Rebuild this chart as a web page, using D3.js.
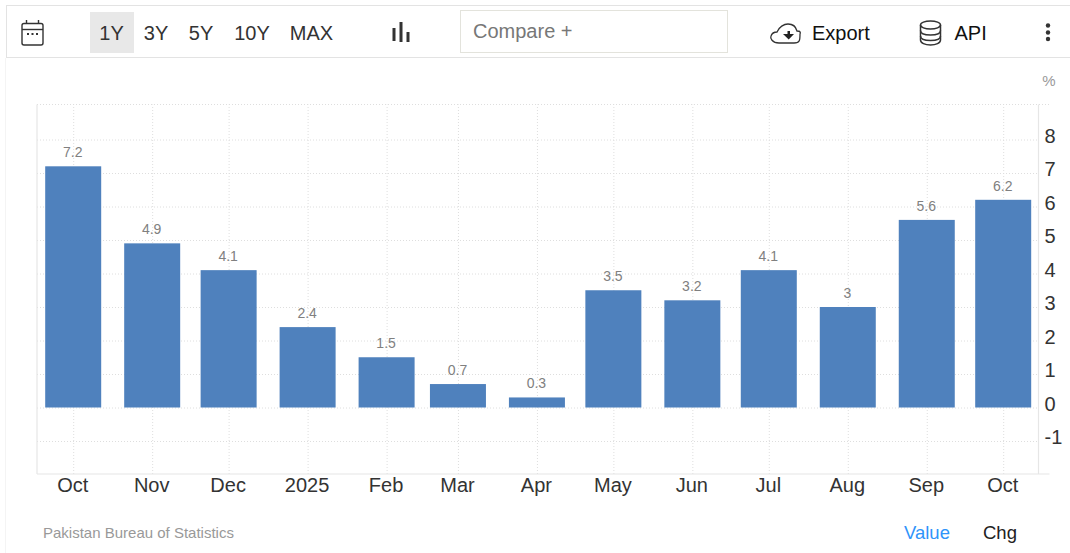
<!DOCTYPE html>
<html><head><meta charset="utf-8">
<style>
html,body{margin:0;padding:0;background:#fff;overflow:hidden}
svg{display:block}
text{font-family:"Liberation Sans",Arial,sans-serif}
.domain{display:none}
</style>
<script src="https://cdn.jsdelivr.net/npm/d3@7/dist/d3.min.js"></script>
</head><body><svg id="c" width="1070" height="553"></svg>
<script>
const dates = ["2024-10-01","2024-11-01","2024-12-01","2025-01-01","2025-02-01","2025-03-01","2025-04-01","2025-05-01","2025-06-01","2025-07-01","2025-08-01","2025-09-01","2025-10-01"];
const tickLabels = ["Oct","Nov","Dec","2025","Feb","Mar","Apr","May","Jun","Jul","Aug","Sep","Oct"];
const values = [7.2,4.9,4.1,2.4,1.5,0.7,0.3,3.5,3.2,4.1,3,5.6,6.2];
const yTicks = [-1,0,1,2,3,4,5,6,7,8];
const rangeButtons = ["1Y","3Y","5Y","10Y","MAX"];
const rangeButtonX = [111.5,156,201,252,311.5];

const svg = d3.select("#c");
const parsed = dates.map(d => new Date(d + "T00:00:00Z"));
const x = d3.scaleUtc().domain([parsed[0], parsed[parsed.length-1]]).range([73.2,1003.2]);
const y = d3.scaleLinear().domain([-1,8]).range([441,139.5]);
const plotL = 37, plotR = 1038.5, plotT = 104.5, plotB = 474;
const barW = 56;

const line = (p,x1,y1,x2,y2,c,w=1) => p.append("line").attr("x1",x1).attr("y1",y1).attr("x2",x2).attr("y2",y2).attr("stroke",c).attr("stroke-width",w);

// toolbar frame
line(svg,6,5.5,1070,5.5,"#e3e3e3");
line(svg,6,57.5,1070,57.5,"#e3e3e3");
line(svg,6.5,5,6.5,58,"#e3e3e3");
line(svg,5.5,58,5.5,553,"#f4f4f4");
svg.append("rect").attr("x",90).attr("y",12).attr("width",44).attr("height",41).attr("fill","#e8e8e8");
svg.selectAll("text.rb").data(rangeButtons).join("text").attr("class","rb")
  .attr("x",(d,i)=>rangeButtonX[i]).attr("y",40).attr("text-anchor","middle").attr("font-size",20).attr("fill","#333").text(d=>d);
svg.append("rect").attr("x",460.5).attr("y",10.5).attr("width",267).attr("height",42).attr("fill","#fff").attr("stroke","#e3e3dc");
svg.append("text").attr("x",473).attr("y",38).attr("font-size",20).attr("fill","#777").text("Compare +");
svg.append("text").attr("x",812).attr("y",40).attr("font-size",20).attr("fill","#111").text("Export");
svg.append("text").attr("x",954.5).attr("y",40).attr("font-size",20).attr("fill","#111").text("API");

// icons
const ic = svg.append("g").attr("fill","none").attr("stroke","#333").attr("stroke-width",1.4);
ic.append("rect").attr("x",22).attr("y",23.5).attr("width",21).attr("height",21.5).attr("rx",2);
line(ic,22,29.5,43,29.5,"#333",1.4);
line(ic,26.5,20,26.5,24,"#333",1.4);
line(ic,38.5,20,38.5,24,"#333",1.4);
[28,32.5,37].forEach(cx => svg.append("rect").attr("x",cx-1).attr("y",33).attr("width",2).attr("height",2).attr("fill","#333"));
[[394,28,41],[401,22,42],[408,32,42]].forEach(b => svg.append("rect").attr("x",b[0]-1.5).attr("y",b[1]).attr("width",3).attr("height",b[2]-b[1]).attr("fill","#333"));
// cloud
ic.append("path").attr("d","M779 43 C772 43 770 38 771 36 C772 33 775 32 777 32 C779 27 784 24 788 24 C793 24 796 27 797 31 C801 31 800.5 33 800 34 C800 40 800 43 794 43 Z").attr("stroke-width",1.3);
svg.append("path").attr("d","M783 34 H787.5 V31 H790 V34 L794 34 L788.7 39.5 Z").attr("fill","#222");
// database
const db = svg.append("g").attr("fill","none").attr("stroke","#333").attr("stroke-width",1.5);
db.append("ellipse").attr("cx",930.5).attr("cy",25).attr("rx",10).attr("ry",4);
db.append("path").attr("d","M920.5 25 V40 C920.5 43 925 45 930.5 45 C936 45 940.5 43 940.5 40 V25");
db.append("path").attr("d","M920.5 30.5 C920.5 33.5 925 35 930.5 35 C936 35 940.5 33.5 940.5 30.5");
db.append("path").attr("d","M920.5 36 C920.5 39 925 40.5 930.5 40.5 C936 40.5 940.5 39 940.5 36");
// kebab
[25.5,32.5,39].forEach(cy => svg.append("circle").attr("cx",1048).attr("cy",cy).attr("r",2.2).attr("fill","#333"));

// grid (dotted)
const gridX = svg.append("g").attr("transform",`translate(0,${plotB})`)
  .call(d3.axisBottom(x).tickValues(parsed).tickSize(-(plotB-plotT)).tickFormat(""));
gridX.selectAll(".tick line").attr("stroke","#dedede").attr("stroke-dasharray","1 2");
const gridY = svg.append("g").attr("transform",`translate(${plotL},0)`)
  .call(d3.axisRight(y).tickValues(yTicks).tickSize(plotR-plotL).tickFormat(""));
gridY.selectAll(".tick line").attr("stroke","#dedede").attr("stroke-dasharray","1 2");
line(svg,plotL,plotT,plotR+11,plotT,"#dedede").attr("stroke-dasharray","1 2");

// frame
line(svg,plotL,plotT,plotL,plotB,"#e6e6e6",1.2);
line(svg,plotL,plotB,plotR+11,plotB,"#e6e6e6",1.2);
line(svg,plotR,plotT,plotR,plotB,"#e6e6e6",1.2);

// bars
svg.append("g").selectAll("rect").data(values).join("rect")
  .attr("x",(d,i)=>x(parsed[i])-barW/2).attr("width",barW)
  .attr("y",d=>y(d)).attr("height",d=>y(0)-y(d))
  .attr("fill","#4f81bd");

// value labels
svg.append("g").selectAll("text").data(values).join("text")
  .attr("x",(d,i)=>x(parsed[i])-0.5).attr("y",d=>y(d)-9)
  .attr("text-anchor","middle").attr("font-size",14).attr("fill","#808080").text(d=>d);

// axes labels
const axX = svg.append("g").attr("transform",`translate(-1,${plotB})`)
  .call(d3.axisBottom(x).tickValues(parsed).tickSize(0).tickPadding(4).tickFormat((d,i)=>tickLabels[i]));
axX.selectAll("text").attr("font-size",20).attr("fill","#333").attr("font-family","'Liberation Sans',Arial,sans-serif");
const axY = svg.append("g").attr("transform",`translate(${plotR},0)`)
  .call(d3.axisRight(y).tickValues(yTicks).tickSize(0).tickPadding(6).tickFormat(d=>d));
axY.selectAll("text").attr("font-size",20).attr("fill","#333").attr("dy","0.13em").attr("font-family","'Liberation Sans',Arial,sans-serif");

svg.append("text").attr("x",1049).attr("y",86).attr("text-anchor","middle").attr("font-size",15).attr("fill","#999").text("%");
svg.append("text").attr("x",43).attr("y",538).attr("font-size",15).attr("fill","#999").text("Pakistan Bureau of Statistics");
svg.append("text").attr("x",904).attr("y",539).attr("font-size",18.5).attr("fill","#2f94fa").text("Value");
svg.append("text").attr("x",983).attr("y",539).attr("font-size",18.5).attr("fill","#222").text("Chg");
</script></body></html>
